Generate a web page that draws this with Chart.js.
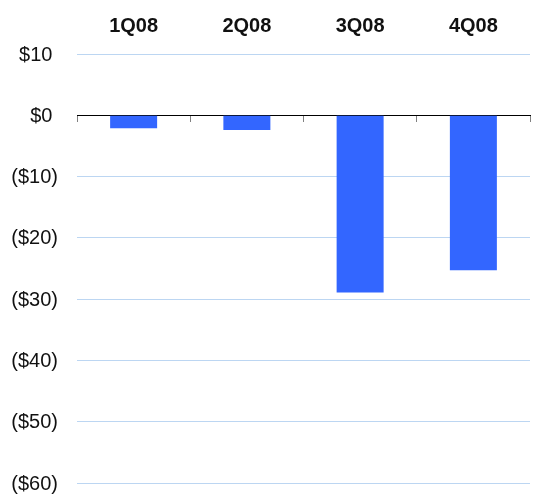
<!DOCTYPE html>
<html>
<head>
<meta charset="utf-8">
<script src="https://cdn.jsdelivr.net/npm/chart.js@4"></script>
<style>
  html, body { margin: 0; padding: 0; background: #fff; }
  #wrap { width: 534px; height: 495px; }
</style>
</head>
<body>
<div id="wrap"><canvas id="quarterly"></canvas></div>
<script>
const quarters = ['1Q08', '2Q08', '3Q08', '4Q08'];
const results = [-2.1, -2.4, -28.9, -25.3];
const yMin = -60;
const yMax = 10;
const yStep = 10;

// accounting style: negatives in parentheses, positives padded so digits line up
function money(v) {
    return v < 0 ? '($' + Math.abs(v) + ')' : '$' + v + ' ';
}

const ctx = document.getElementById('quarterly').getContext('2d');
new Chart(ctx, {
    type: 'bar',
    data: {
        labels: quarters,
        datasets: [{
            data: results,
            backgroundColor: '#3366ff',
            barPercentage: 0.415,
            categoryPercentage: 1.0,
            xAxisID: 'x'
        }]
    },
    options: {
        responsive: true,
        maintainAspectRatio: false,
        animation: false,
        layout: { padding: { left: 11, right: 4, top: 6, bottom: 0 } },
        plugins: {
            legend: { display: false },
            tooltip: { enabled: false }
        },
        scales: {
            xTop: {
                type: 'category',
                labels: quarters,
                position: 'top',
                offset: true,
                grid: { display: false },
                border: { display: false },
                ticks: {
                    color: '#111',
                    padding: 8,
                    maxRotation: 0,
                    font: { family: 'Arial, "Liberation Sans", sans-serif', size: 20, weight: 'bold' }
                }
            },
            x: {
                type: 'category',
                position: { y: 0 },
                offset: true,
                ticks: { display: false },
                grid: {
                    offset: true,
                    drawOnChartArea: false,
                    tickLength: 6,
                    color: '#808080'
                },
                border: { color: '#000', width: 1 }
            },
            y: {
                min: yMin,
                max: yMax,
                // fixed label column; keep the tick padding out of the vertical overhang
                afterFit: scale => {
                    scale.width = 66;
                    scale.paddingTop = 0;
                    scale.paddingBottom = 12;
                },
                ticks: {
                    stepSize: yStep,
                    padding: 19,
                    labelOffset: 1,
                    color: '#111',
                    font: { family: 'Arial, "Liberation Sans", sans-serif', size: 20 },
                    callback: v => money(v)
                },
                grid: {
                    color: '#bcd6f2',
                    drawTicks: false
                },
                border: { display: false }
            }
        }
    }
});
</script>
</body>
</html>
